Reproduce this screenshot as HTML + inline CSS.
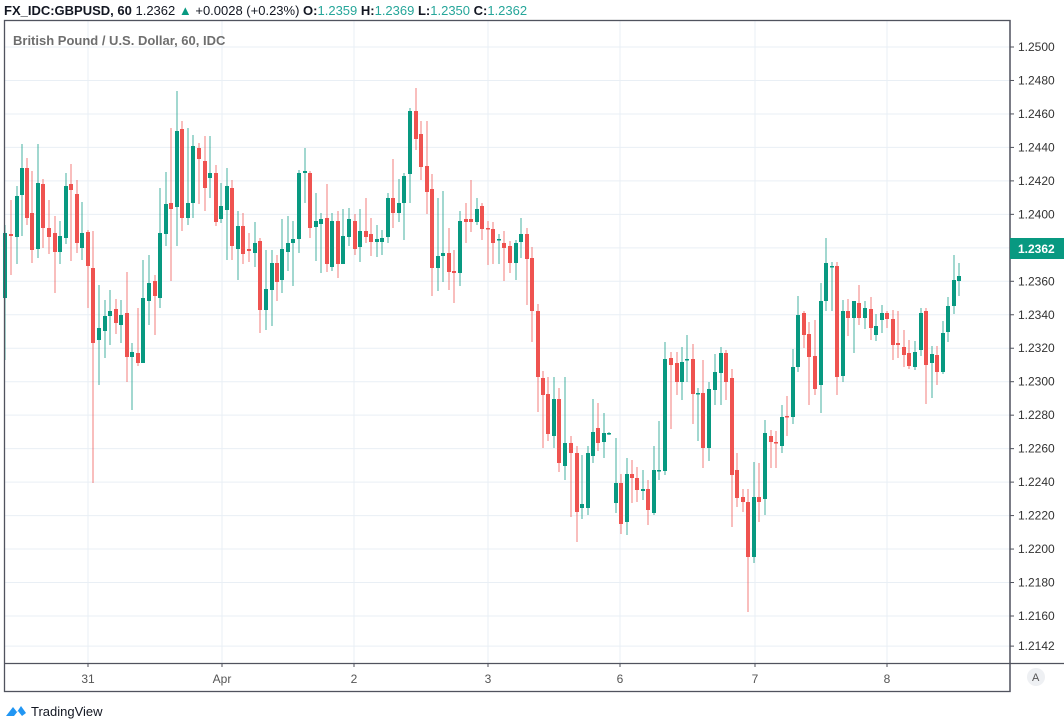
<!DOCTYPE html>
<html><head><meta charset="utf-8"><style>
body{margin:0;background:#fff;width:1064px;height:720px;overflow:hidden;font-family:"Liberation Sans",sans-serif;}
</style></head><body>
<svg id="s" width="1064" height="720" xmlns="http://www.w3.org/2000/svg" font-family="Liberation Sans, sans-serif">
<rect width="1064" height="720" fill="#fff"/>
<g id="grid"></g>
<g id="c"></g>
<rect x="4.5" y="20.5" width="1005.5" height="671" fill="none" stroke="#50535e" stroke-width="1.3"/>
<line x1="4.5" y1="663.5" x2="1064" y2="663.5" stroke="#50535e" stroke-width="1.3"/>
<line x1="1010" y1="20" x2="1010" y2="692" stroke="#50535e" stroke-width="1.3"/>
<g id="ax" font-size="12" fill="#333"></g>
<rect x="1010" y="238" width="54" height="21" fill="#089981"/>
<text x="1018" y="253" font-size="12" font-weight="bold" fill="#fff">1.2362</text>
<circle cx="1036" cy="677" r="9" fill="#eef0f3"/>
<text x="1032" y="681" font-size="11" fill="#555">A</text>
<text x="4" y="15" font-size="13"><tspan font-weight="bold" fill="#131722">FX_IDC:GBPUSD, 60 </tspan><tspan fill="#131722"> 1.2362 </tspan><tspan fill="#089981">▲</tspan><tspan fill="#131722"> +0.0028 (+0.23%) </tspan><tspan font-weight="bold" fill="#131722">O:</tspan><tspan fill="#26a69a">1.2359 </tspan><tspan font-weight="bold" fill="#131722">H:</tspan><tspan fill="#26a69a">1.2369 </tspan><tspan font-weight="bold" fill="#131722">L:</tspan><tspan fill="#26a69a">1.2350 </tspan><tspan font-weight="bold" fill="#131722">C:</tspan><tspan fill="#26a69a">1.2362</tspan></text>
<text x="13" y="45" font-size="13" fill="#555" font-weight="bold" opacity="0.85">British Pound / U.S. Dollar, 60, IDC</text>
<path d="M6 716 L13 707 L17 712 L21 706 L26 713 L22 716 L18 711 L14 716 Z" fill="#2196f3"/>
<text x="31" y="716" font-size="13" fill="#131722">TradingView</text>
</svg>
<script>
var NS="http://www.w3.org/2000/svg";
function el(p,t,a,txt){var e=document.createElementNS(NS,t);for(var k in a)e.setAttribute(k,a[k]);if(txt)e.textContent=txt;p.appendChild(e);return e;}
var grid=document.getElementById('grid'),ax=document.getElementById('ax'),c=document.getElementById('c');
function py(p){return 47+(1.25-p)*16735;}
for(var i=0;i<=17;i++){var p=1.25-i*0.002,y=py(p);
el(grid,'line',{x1:5,y1:y,x2:1010,y2:y,stroke:'#e9eff5','stroke-width':1});
el(ax,'line',{x1:1010,y1:y,x2:1014,y2:y,stroke:'#50535e'});
el(ax,'text',{x:1018,y:y+4},p.toFixed(4));}
var y2=py(1.2142);el(grid,'line',{x1:5,y1:y2,x2:1010,y2:y2,stroke:'#e9eff5'});
el(ax,'line',{x1:1010,y1:y2,x2:1014,y2:y2,stroke:'#50535e'});el(ax,'text',{x:1018,y:y2+4},'1.2142');
var days=[[88,'31'],[222,'Apr'],[354,'2'],[488,'3'],[620,'6'],[755,'7'],[887,'8']];
days.forEach(function(d){el(grid,'line',{x1:d[0],y1:21,x2:d[0],y2:663,stroke:'#e9eff5'});
el(ax,'line',{x1:d[0],y1:663,x2:d[0],y2:667,stroke:'#50535e'});
el(ax,'text',{x:d[0],y:683,'text-anchor':'middle',fill:'#555'},d[1]);});
// x, top, bottom, g/r, [hi, lo]
var D=[[5,233,298,'g',225,360],[11,234,236,'r',200,275],[17,196,237,'g',186,264],[22,168,195,'g',144,236],[27,168,218,'r',158,225],[32,213,250,'r',171,263],[38,183,249,'g',144,258],[43,184,228,'r',179,248],[49,228,237,'r',200,254],[55,233,252,'r',216,293],[60,236,252,'g',221,264],[66,186,238,'g',173,244],[71,184,190,'r',164,261],[77,194,243,'r',180,253],[82,233,248,'g',202,260],[88,232,266,'r',230,308],[93,268,343,'r',231,483],[99,328,340,'g',285,385],[105,316,331,'g',300,358],[110,311,316,'g',290,345],[116,309,323,'r',299,334],[121,315,325,'g',300,343],[127,313,357,'r',272,382],[132,352,357,'g',343,410],[138,353,363,'r',308,366],[143,298,363,'g',260,363],[149,283,301,'g',255,325],[155,281,296,'r',275,335],[160,233,298,'g',188,308],[166,204,234,'g',172,246],[171,203,209,'r',128,281],[177,131,207,'g',91,246],[182,129,218,'r',121,231],[188,203,218,'g',128,225],[193,146,203,'g',135,218],[199,148,159,'r',143,204],[205,161,188,'r',136,211],[210,173,178,'g',136,198],[216,173,222,'r',165,226],[221,206,219,'g',183,223],[227,186,210,'g',168,260],[232,188,246,'r',180,260],[238,226,249,'g',211,280],[243,226,254,'r',213,264],[249,249,251,'r',233,262],[255,243,253,'g',222,267],[260,241,310,'r',238,333],[266,289,310,'g',250,330],[272,263,290,'g',250,326],[277,263,282,'r',255,301],[282,249,280,'g',219,293],[288,243,252,'g',216,271],[293,239,243,'g',221,286],[299,173,239,'g',170,253],[305,171,173,'g',148,203],[310,173,228,'r',171,238],[316,221,227,'g',193,261],[321,219,224,'g',213,273],[327,218,264,'r',184,272],[332,221,267,'g',213,271],[338,221,264,'r',211,278],[343,236,264,'g',209,264],[349,219,237,'g',208,246],[355,221,249,'r',214,255],[360,231,247,'g',209,262],[366,231,237,'r',198,243],[371,234,242,'r',218,256],[377,239,242,'g',225,257],[382,238,242,'g',230,255],[388,198,237,'g',193,243],[393,198,213,'r',159,228],[399,203,213,'g',179,222],[404,176,203,'g',173,240],[410,111,174,'g',108,203],[416,111,139,'r',88,150],[421,134,167,'r',121,180],[427,166,192,'r',121,214],[432,189,268,'r',174,296],[438,256,268,'g',198,291],[443,253,256,'g',191,282],[449,253,272,'r',228,290],[454,271,273,'r',250,303],[460,221,273,'g',211,286],[466,219,222,'r',203,243],[471,219,222,'r',180,232],[477,209,222,'g',198,225],[482,206,229,'r',203,240],[488,228,229,'r',221,265],[493,229,243,'r',222,264],[499,239,239,'g',234,264],[504,243,248,'r',231,281],[510,246,263,'r',241,273],[516,243,263,'g',240,280],[521,234,242,'g',218,258],[527,234,259,'r',228,305],[532,258,311,'r',247,342],[538,311,377,'r',304,412],[543,378,395,'r',371,448],[548,394,434,'r',377,441],[554,399,436,'g',377,448],[559,399,463,'r',388,472],[565,443,466,'g',377,480],[571,443,453,'r',436,517],[577,453,512,'r',446,542],[582,504,508,'g',455,519],[588,453,508,'g',446,515],[593,432,456,'g',399,463],[598,428,443,'r',403,451],[604,433,442,'g',413,458],[609,433,434,'g',432,435],[616,483,503,'g',438,513],[621,483,524,'r',474,534],[627,474,522,'g',458,535],[632,474,478,'r',460,503],[637,478,490,'r',467,502],[643,489,491,'g',470,500],[648,489,510,'r',480,525],[654,470,513,'g',446,515],[659,470,471,'g',421,480],[665,359,471,'g',342,475],[671,358,365,'r',352,429],[677,363,382,'r',352,395],[682,362,382,'g',347,400],[687,359,360,'g',335,382],[693,359,394,'r',344,424],[698,393,394,'g',388,441],[703,393,448,'r',360,468],[709,389,448,'g',382,461],[715,372,390,'g',354,405],[721,353,373,'g',347,405],[726,353,382,'r',350,400],[732,378,475,'r',369,527],[737,470,498,'r',453,507],[743,497,502,'r',489,512],[748,502,557,'r',489,612],[754,497,557,'g',462,563],[759,497,502,'r',463,522],[765,433,499,'g',420,515],[771,436,442,'r',430,468],[776,442,443,'r',431,468],[782,417,446,'g',405,453],[787,416,417,'r',396,436],[793,367,417,'g',349,424],[798,315,367,'g',296,372],[804,313,335,'r',311,348],[809,334,357,'r',322,405],[815,356,389,'r',320,395],[821,301,385,'g',283,413],[826,263,301,'g',238,311],[832,266,267,'g',262,311],[837,266,377,'r',262,395],[843,311,376,'g',300,382],[848,311,318,'r',299,336],[854,301,318,'g',301,353],[859,303,318,'r',285,325],[865,308,318,'g',301,329],[871,309,328,'r',297,340],[876,326,335,'g',314,341],[882,313,320,'g',305,333],[887,313,319,'r',311,328],[893,319,345,'r',310,360],[898,343,345,'r',311,358],[904,347,355,'r',330,367],[909,353,366,'r',340,369],[915,352,367,'g',341,370],[921,313,350,'g',308,356],[926,311,365,'r',308,404],[932,354,363,'g',346,398],[937,355,372,'r',346,385],[943,333,372,'g',321,374],[948,306,332,'g',297,342],[954,280,306,'g',255,314],[959,276,281,'g',263,296]];
D.forEach(function(d){var col=d[3]=='g'?'#089981':'#ef5350';var h=Math.max(d[2]-d[1],1.5);
el(c,'line',{x1:d[0],y1:d[4],x2:d[0],y2:d[5],stroke:col,'stroke-width':1,opacity:0.75});
el(c,'rect',{x:d[0]-2,y:d[1],width:4,height:h,fill:col});});
</script>
</body></html>
